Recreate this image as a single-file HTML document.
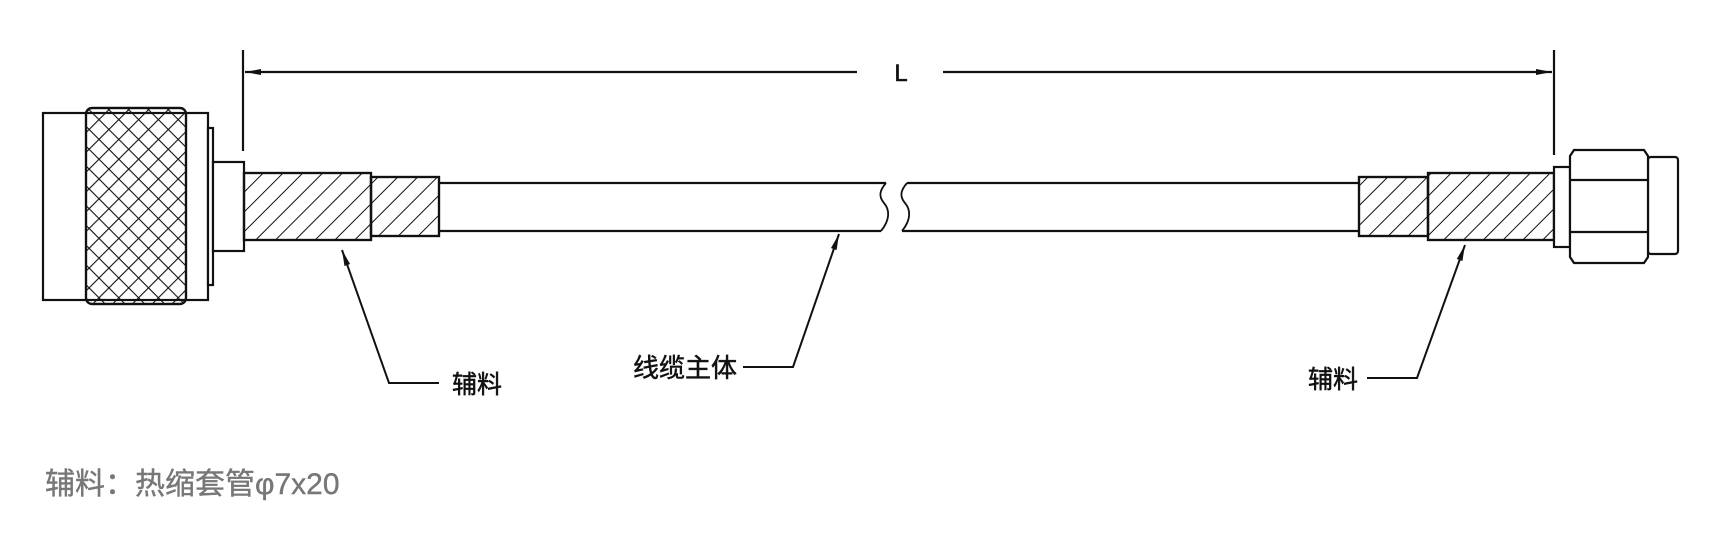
<!DOCTYPE html>
<html><head><meta charset="utf-8"><style>
html,body{margin:0;padding:0;background:#fff;}
svg{display:block}
text{font-family:"Liberation Sans","Noto Sans CJK SC",sans-serif;}
</style></head><body>
<svg width="1718" height="546" viewBox="0 0 1718 546" xmlns="http://www.w3.org/2000/svg">
<defs>
<pattern id="hatch" patternUnits="userSpaceOnUse" width="14" height="14" patternTransform="rotate(45)">
<line x1="0" y1="0" x2="0" y2="14" stroke="#111" stroke-width="2"/>
</pattern>
<pattern id="knurl" patternUnits="userSpaceOnUse" width="14" height="14" patternTransform="rotate(45)">
<line x1="0" y1="0" x2="0" y2="14" stroke="#111" stroke-width="2.2"/>
<line x1="0" y1="0" x2="14" y2="0" stroke="#111" stroke-width="2.2"/>
</pattern>
<marker id="ah" viewBox="0 0 16 8" refX="16" refY="4" markerWidth="16" markerHeight="8" orient="auto" markerUnits="userSpaceOnUse">
<path d="M0,1 L16,4 L0,7 Z" fill="#111"/>
</marker>
</defs>
<g stroke="#111" stroke-width="2.2" fill="none">
<line x1="243" y1="50" x2="243" y2="151"/>
<line x1="1554" y1="50" x2="1554" y2="155"/>
<line x1="857" y1="72" x2="245" y2="72" marker-end="url(#ah)"/>
<line x1="943" y1="72" x2="1552" y2="72" marker-end="url(#ah)"/>
<rect x="43" y="113" width="165" height="187" fill="#fff"/>
<rect x="86" y="108" width="100" height="196" rx="6" fill="url(#knurl)"/>
<rect x="86" y="108" width="100" height="196" rx="6"/>
<rect x="208" y="128" width="5" height="157" fill="#fff"/>
<rect x="213" y="162" width="31" height="89" fill="#fff"/>
<rect x="244" y="173" width="127" height="67" fill="url(#hatch)"/>
<rect x="244" y="173" width="127" height="67"/>
<rect x="371" y="177" width="68" height="59" fill="url(#hatch)"/>
<rect x="371" y="177" width="68" height="59"/>
<path d="M439 183 H886"/>
<path d="M439 231 H881"/>
<path d="M907 183 H1359"/>
<path d="M902 231 H1359"/>
<path d="M886 183 C880 190,878 196,884 203 C890 210,890 220,881 231" stroke-width="1.8"/>
<path d="M907 183 C901 190,899 196,905 203 C911 210,911 220,902 231" stroke-width="1.8"/>
<rect x="1359" y="177" width="69" height="59" fill="url(#hatch)"/>
<rect x="1359" y="177" width="69" height="59"/>
<rect x="1428" y="173" width="126" height="67" fill="url(#hatch)"/>
<rect x="1428" y="173" width="126" height="67"/>
<rect x="1554" y="167" width="16" height="80" fill="#fff"/>
<rect x="1648" y="157" width="30" height="97" rx="3" fill="#fff"/>
<path d="M1574 150 H1644 L1648 156 V257 L1644 263 H1574 L1570 257 V156 Z" fill="#fff"/>
<line x1="1570" y1="180" x2="1648" y2="180"/>
<line x1="1570" y1="232" x2="1648" y2="232"/>
<polyline points="439,383 389,383 342,250" stroke-width="2" marker-end="url(#ah)"/>
<polyline points="743,367 793,367 839,234" stroke-width="2" marker-end="url(#ah)"/>
<polyline points="1367,378 1417,378 1465,245" stroke-width="2" marker-end="url(#ah)"/>
</g>
<g fill="#111" stroke="#111" stroke-width="0.5">
<text x="901" y="81" font-size="24" text-anchor="middle">L</text>
<text x="452" y="393" font-size="25">辅料</text>
<text x="633" y="377" font-size="26">线缆主体</text>
<text x="1308" y="388" font-size="25">辅料</text>
</g>
<text x="45" y="494" font-size="30" fill="#777" stroke="#777" stroke-width="0.4">辅料：热缩套管φ7x20</text>
</svg>
</body></html>
